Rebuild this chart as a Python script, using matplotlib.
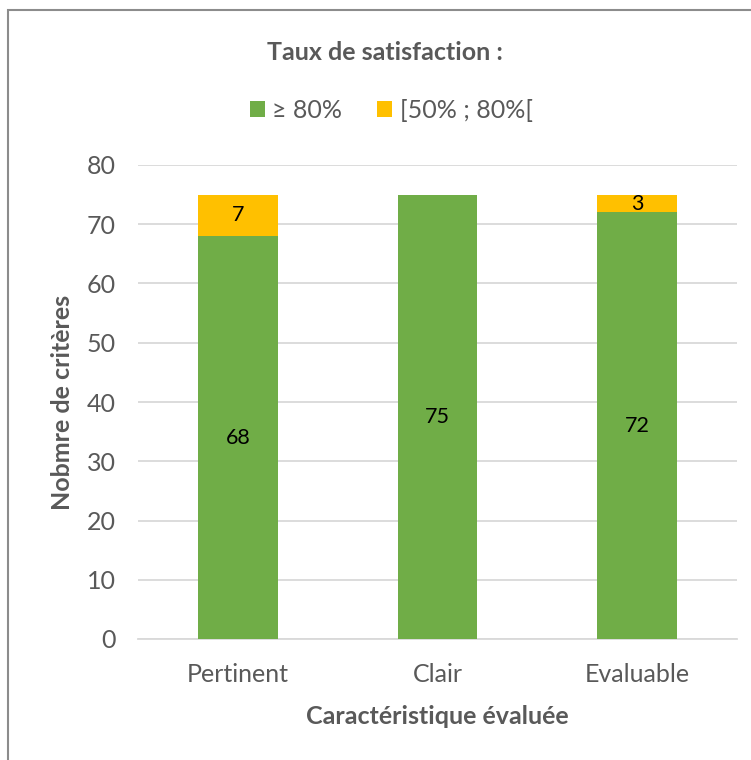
import matplotlib
matplotlib.use("Agg")
import matplotlib.pyplot as plt
from matplotlib.patches import Rectangle
import numpy as np

# data
categories = ["Pertinent", "Clair", "Evaluable"]
high_sat = [68, 75, 72]     # >= 80%
mid_sat = [7, 0, 3]         # [50% ; 80%[
legend_labels = ["\u2265 80%", "[50% ; 80%["]

green = "#70ad47"
yellow = "#ffc000"
grey_txt = "#595959"

plt.rcParams['font.family'] = ['Lato', 'DejaVu Sans']

fig = plt.figure(figsize=(7.51, 7.60), dpi=100)
ax = fig.add_axes([138/751, 1 - 639/760, 599/751, 474/760])

x = np.arange(len(categories))
width = 0.4
b1 = ax.bar(x, high_sat, width, color=green, label=legend_labels[0], zorder=3)
b2 = ax.bar(x, mid_sat, width, bottom=high_sat, color=yellow, label=legend_labels[1], zorder=3)

# value labels, centred in each segment
for i in range(len(categories)):
    ax.text(x[i], high_sat[i] / 2, str(high_sat[i]), ha='center', va='center',
            fontsize=15.5, color='black', zorder=4)
    if mid_sat[i] > 0:
        ax.text(x[i], high_sat[i] + mid_sat[i] / 2, str(mid_sat[i]), ha='center',
                va='center', fontsize=15.5, color='black', zorder=4)

ax.set_xlim(-0.5, 2.5)
ax.set_ylim(0, 80)
ax.set_yticks(range(0, 81, 10))
ax.set_xticks(x)
ax.set_xticklabels(categories)
ax.tick_params(axis='both', length=0, labelsize=18, labelcolor=grey_txt)
ax.tick_params(axis='y', pad=16)
ax.tick_params(axis='x', pad=17)
ax.grid(axis='y', color='#d9d9d9', linewidth=1.3, zorder=0)
for s in ['top', 'right', 'left']:
    ax.spines[s].set_visible(False)
ax.spines['bottom'].set_color('#d9d9d9')
ax.spines['bottom'].set_linewidth(1.3)

ax.set_ylabel("Nobmre de critères", fontsize=18, fontweight='bold', color=grey_txt, labelpad=9)
ax.set_xlabel("Caractéristique évaluée", fontsize=18, fontweight='bold', color=grey_txt, labelpad=14)

fig.text(385/751, 1 - 52/760, "Taux de satisfaction :", ha='center', va='center',
         fontsize=18, fontweight='bold', color=grey_txt)
fig.legend(handles=[b1, b2], loc='center', bbox_to_anchor=(391/751, 1 - 110/760),
           ncol=2, frameon=False, fontsize=18, labelcolor=grey_txt,
           handlelength=0.6, handleheight=0.6, handletextpad=0.3, columnspacing=1.4)

# chart frame (left and top edges visible in the reference)
fig.add_artist(Rectangle((8/751, -0.1), 1.2, 1 - 10/760 + 0.1, transform=fig.transFigure,
                         fill=False, edgecolor='#8c8c8c', linewidth=1.5))

fig.savefig("out.png", dpi=100)
